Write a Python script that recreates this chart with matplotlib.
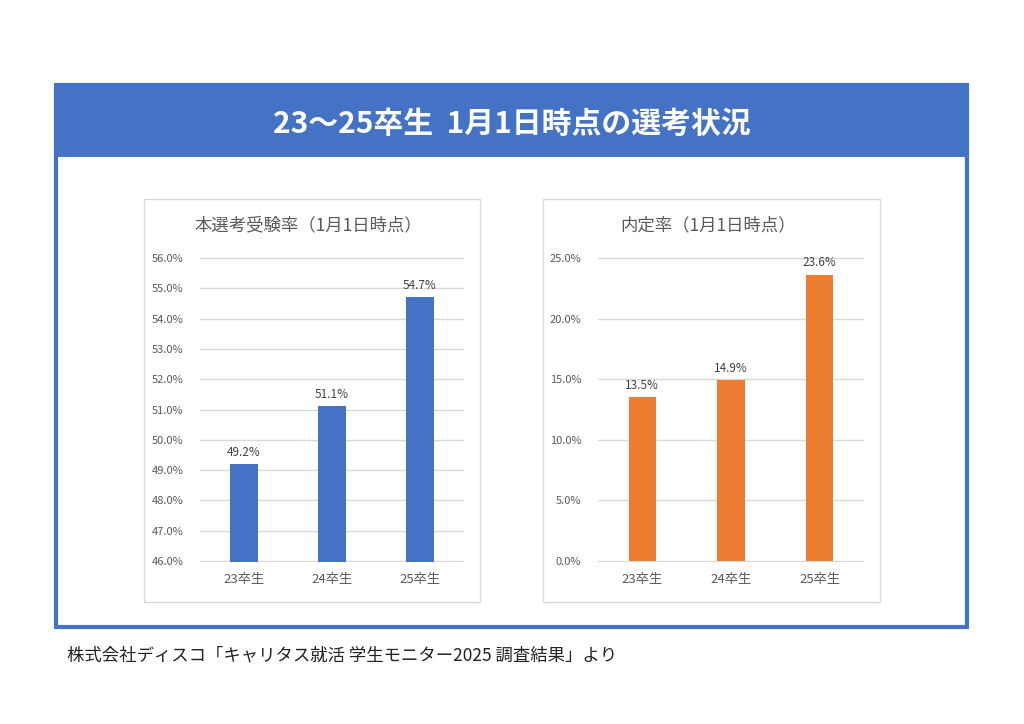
import matplotlib
matplotlib.use("Agg")
import matplotlib.pyplot as plt
from matplotlib.patches import Rectangle
from matplotlib.ticker import FuncFormatter

plt.rcParams['font.family'] = ['Noto Sans CJK JP', 'DejaVu Sans']

# データ
categories = ["23卒生", "24卒生", "25卒生"]
exam_rate = [49.2, 51.1, 54.7]      # 本選考受験率
offer_rate = [13.5, 14.9, 23.6]     # 内定率

W, H = 1024, 724
fig = plt.figure(figsize=(W / 100, H / 100), dpi=100)
fig.patch.set_facecolor("white")


def box(x0, y0, x1, y1, **kw):
    # ピクセル座標（上基準）で矩形を描く
    fig.patches.append(Rectangle((x0 / W, 1 - y1 / H), (x1 - x0) / W, (y1 - y0) / H,
                                 transform=fig.transFigure, figure=fig, zorder=-1, **kw))


# 外枠とヘッダー
box(56, 85, 967, 627, facecolor="white", edgecolor="#4472C4", linewidth=3)
box(56, 85, 967, 157, facecolor="#4472C4", edgecolor="none")
fig.text(512 / W, 1 - 124 / H, "23～25卒生  1月1日時点の選考状況", color="white",
         fontsize=21.5, fontweight="bold", ha="center", va="center")

# グラフ枠
box(144, 199, 480, 602, facecolor="white", edgecolor="#D9D9D9", linewidth=1)
box(543, 199, 880, 602, facecolor="white", edgecolor="#D9D9D9", linewidth=1)


def draw(ax, values, color, ymin, ymax, step, title, title_x):
    x = range(len(categories))
    bars = ax.bar(x, values, width=0.31, color=color, zorder=3)
    ax.set_xlim(-0.5, len(categories) - 0.5)
    pad = (ymax - ymin) * 0.003
    ax.set_ylim(ymin - pad, ymax + pad)
    ticks = []
    t = ymin
    while t <= ymax + 1e-9:
        ticks.append(t)
        t += step
    ax.set_yticks(ticks)
    ax.yaxis.set_major_formatter(FuncFormatter(lambda v, p: f"{v:.1f}%"))
    ax.set_xticks(list(x))
    ax.set_xticklabels(categories)
    ax.grid(axis="y", color="#D9D9D9", linewidth=1, zorder=0)
    ax.set_axisbelow(True)
    for s in ax.spines.values():
        s.set_visible(False)
    ax.tick_params(axis="both", length=0, labelcolor="#595959")
    ax.tick_params(axis="y", pad=12, labelsize=8)
    ax.tick_params(axis="x", pad=8, labelsize=9.5)
    for b, v in zip(bars, values):
        ax.annotate(f"{v:.1f}%", (b.get_x() + b.get_width() / 2, v),
                    xytext=(0, 4), textcoords="offset points",
                    ha="center", va="bottom", fontsize=8.5, color="#404040")
    fig.text(title_x / W, 1 - 225 / H, title, fontsize=12.5, color="#595959",
             ha="center", va="center")


ax1 = fig.add_axes([200 / W, 1 - 562 / H, 264 / W, 305 / H])
draw(ax1, exam_rate, "#4472C4", 46.0, 56.0, 1.0, "本選考受験率（1月1日時点）", 308)

ax2 = fig.add_axes([598 / W, 1 - 562 / H, 266 / W, 305 / H])
draw(ax2, offer_rate, "#ED7D31", 0.0, 25.0, 5.0, "内定率（1月1日時点）", 708)

# 出典
fig.text(67 / W, 1 - 655 / H, "株式会社ディスコ「キャリタス就活 学生モニター2025 調査結果」より",
         fontsize=12.5, color="#222222", ha="left", va="center")

fig.savefig("out.png", dpi=100)
